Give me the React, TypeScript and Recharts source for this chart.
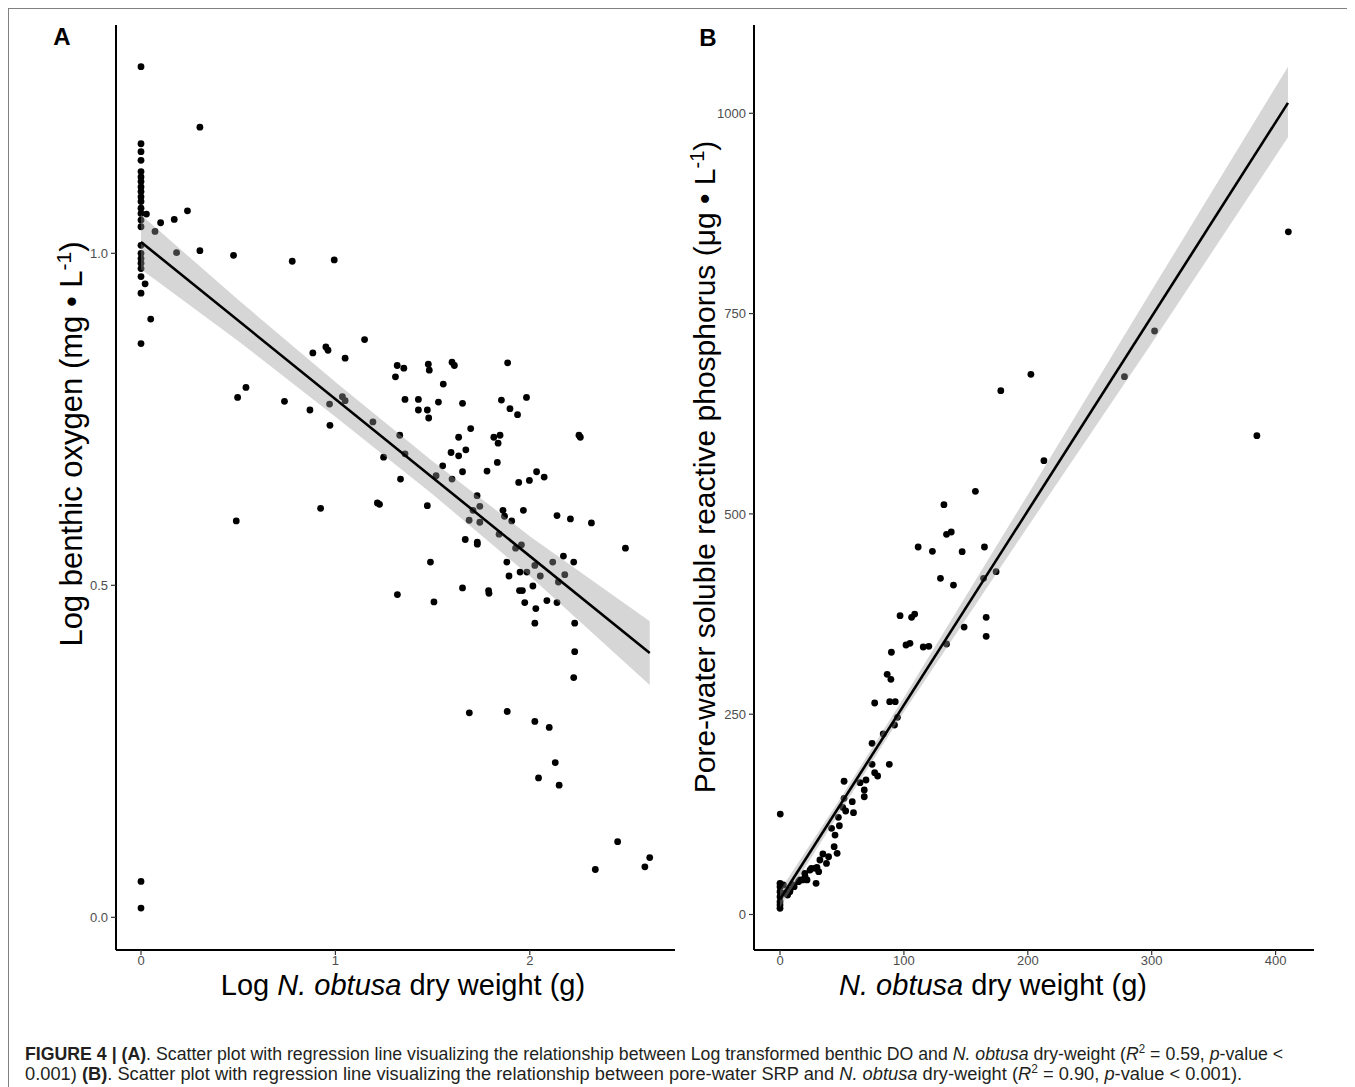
import { ComposedChart, Scatter, Line, Area, XAxis, YAxis } from "recharts"

const FONT = "'Liberation Sans', Arial, Helvetica, sans-serif"

// Panel A: log N. obtusa dry weight vs log benthic DO
const weightA = [
  0, 0, 0, 0, 0, 0, 0, 0, 0, 0, 0, 0, 0, 0, 0, 0, 0, 0, 0, 0, 0, 0, 0, 0, 0,
  0.028, 0.072, 0.021, 0.05, 0.101, 0.171, 0.183, 0.239, 0.303, 0.303, 0.476, 0.778, 0.994, 1.15, 0.884, 0.951,
  0.962, 1.05, 1.309, 1.318, 1.352, 1.478, 1.483, 1.555, 1.6, 1.612, 1.886,
  0.54, 0.497, 0.738, 0.869, 0.97, 0.972, 1.036, 1.05, 1.193, 1.248, 1.331, 1.335, 1.358, 1.358, 1.427, 1.427,
  1.473, 1.48, 1.53, 1.654, 1.696, 1.634, 1.595, 1.634, 1.671, 1.552, 1.518, 1.6, 1.654, 1.854, 1.898, 1.937,
  1.983, 1.815, 1.847, 1.837, 1.833, 1.78, 2.035, 1.998, 2.074, 1.943, 2.253, 2.26, 1.729, 1.743, 1.708, 1.688,
  1.743, 1.862, 1.87, 1.907, 1.967, 1.842, 1.927, 1.957, 1.668, 1.73, 1.73, 1.216, 1.227, 0.924, 1.473, 0.49,
  2.14, 2.209, 2.317, 2.492, 1.882, 1.893, 1.95, 1.985, 2.026, 2.054, 2.118, 2.173, 2.18, 2.226, 2.147, 2.016,
  1.947, 1.962, 1.974, 2.031, 2.088, 2.14, 2.026, 2.231, 2.231, 2.226, 1.654, 1.788, 1.79, 1.319, 1.507, 1.489,
  1.689, 1.884, 2.026, 2.1, 2.131, 2.045, 2.151, 2.337, 2.452, 2.592, 2.617,
]
const oxygenA = [
  1.281, 1.165, 1.153, 1.14, 1.123, 1.115, 1.108, 1.1, 1.093, 1.085, 1.078, 1.068, 1.06, 1.05, 1.04, 1.012,
  1.0, 0.992, 0.985, 0.977, 0.965, 0.94, 0.864, 0.054, 0.014,
  1.059, 1.033, 0.954, 0.901, 1.046, 1.051, 1.001, 1.064, 1.19, 1.004, 0.997, 0.988, 0.99, 0.87, 0.85, 0.859,
  0.854, 0.842, 0.814, 0.831, 0.827, 0.833, 0.824, 0.803, 0.836, 0.831, 0.835,
  0.798, 0.783, 0.777, 0.764, 0.773, 0.741, 0.784, 0.778, 0.746, 0.693, 0.726, 0.66, 0.698, 0.78, 0.78, 0.764,
  0.764, 0.752, 0.776, 0.774, 0.736, 0.723, 0.7, 0.695, 0.704, 0.68, 0.665, 0.66, 0.671, 0.779, 0.766, 0.757,
  0.783, 0.723, 0.726, 0.714, 0.685, 0.672, 0.671, 0.658, 0.663, 0.655, 0.726, 0.723, 0.635, 0.619, 0.613, 0.598,
  0.595, 0.613, 0.604, 0.597, 0.613, 0.577, 0.556, 0.561, 0.569, 0.565, 0.562, 0.624, 0.622, 0.616, 0.62, 0.597,
  0.605, 0.6, 0.594, 0.556, 0.535, 0.514, 0.52, 0.52, 0.53, 0.514, 0.535, 0.544, 0.516, 0.535, 0.505, 0.499,
  0.492, 0.492, 0.474, 0.465, 0.477, 0.474, 0.443, 0.443, 0.4, 0.361, 0.496, 0.492, 0.488, 0.486, 0.475, 0.535,
  0.308, 0.31, 0.295, 0.286, 0.233, 0.21, 0.199, 0.072, 0.114, 0.076, 0.09,
]
const fitXA = [0, 2.617]
const fitYA = [1.017, 0.398]
const bandXA = [0, 0.5, 1.0, 1.5, 2.0, 2.617]
const bandLoA = [0.976, 0.868, 0.754, 0.637, 0.514, 0.35]
const bandHiA = [1.058, 0.93, 0.806, 0.687, 0.574, 0.446]
const ticksXA = [0, 1, 2]
const ticksYA = [0, 0.5, 1.0]

// Panel B: N. obtusa dry weight vs pore-water SRP
const weightB = [
  410.3, 178.2, 202.5, 278, 302.3, 384.9, 213, 157.7, 132.3, 134.4, 138.2, 111.5, 123, 147, 165, 174.4,
  164.3, 129.5, 140, 96.9, 106.2, 108.7, 166.4, 148.6, 166.4, 101.7, 104.9, 115.6, 120.1, 134.4, 89.9, 86.5,
  89.5, 76.4, 88.5, 93, 94.8, 92.4, 83.3, 74.3, 88.2, 74.3, 76.4, 78.8, 69.4, 64.6, 68, 68,
  51.7, 51.7, 58.3, 50.6, 53, 59.3, 47.1, 47.9, 41.6, 44.4, 43.7, 46.1, 39.2, 34.6, 37.5, 32.2,
  29.8, 25.3, 31.2, 29.1, 20, 18.3, 21.8, 14.9, 11.4, 7.9, 6.1, 0.2, 2.7, 0, 0, 0,
  0, 0, 0, 0, 10.8, 8.1, 4, 16.1, 20.2, 24.2, 28.3,
]
const srpB = [
  852, 653.8, 674.2, 671.3, 728.3, 597.6, 566.4, 528.2, 511.5, 474.5, 477.4, 458.7, 453.3, 452.8, 458.7, 427.9,
  419.6, 419.6, 411.2, 373, 370.9, 375, 370.9, 358.8, 347.2, 336.4, 338.5, 333.9, 334.7, 337.6, 327.3, 299.8,
  293.5, 264, 265.6, 265.6, 246.1, 236.5, 225.3, 213.7, 187.5, 187.5, 177, 172.9, 167.9, 164.5, 155.4, 147,
  166.3, 145, 140.8, 133.8, 129.2, 127.1, 121.3, 110.8, 107.6, 99.2, 84.6, 76.4, 72.1, 75.5, 63.8, 68,
  58.9, 57.7, 53.4, 38.9, 51.4, 43.1, 43.1, 41, 34.7, 28.5, 24.3, 125.4, 36.8, 38.9, 34.7, 28.5,
  22.2, 16, 11.9, 7.7, 36.8, 30.6, 26.5, 43.1, 47.2, 55.5, 57.7,
]
const fitXB = [0, 410]
const fitYB = [19, 1013]
const bandXB = [0, 50, 100, 200, 300, 410]
const bandLoB = [9, 132, 253, 484, 713, 970]
const bandHiB = [30, 148, 271, 524, 779, 1058]
const ticksXB = [0, 100, 200, 300, 400]
const ticksYB = [0, 250, 500, 750, 1000]

const zip = (xs: number[], ys: number[]) => xs.map((x, i) => ({ x, y: ys[i] }))
const bandOf = (xs: number[], lo: number[], hi: number[]) => xs.map((x, i) => ({ x, band: [lo[i], hi[i]] }))

const pointsA = zip(weightA, oxygenA)
const pointsB = zip(weightB, srpB)
const fitA = zip(fitXA, fitYA)
const fitB = zip(fitXB, fitYB)
const ribbonA = bandOf(bandXA, bandLoA, bandHiA)
const ribbonB = bandOf(bandXB, bandLoB, bandHiB)

const Dot = (p: any) => <circle cx={p.cx} cy={p.cy} r={3.4} fill="#000" />

const tickStyle = { fill: "#4d4d4d", fontSize: 13, fontFamily: FONT }
const axisLine = { stroke: "#000", strokeWidth: 2 }
const tickLine = { stroke: "#333", strokeWidth: 1.2 }

const TitleXA = () => (
  <text x={394} y={986} textAnchor="middle" fontSize={29} fontFamily={FONT} fill="#000">
    {"Log "}
    <tspan fontStyle="italic">N. obtusa</tspan>
    {" dry weight (g)"}
  </text>
)

const TitleYA = () => (
  <g fontFamily={FONT} fill="#000">
    <text x={53} y={36} textAnchor="middle" fontSize={24} fontWeight="bold">A</text>
    <text x={73} y={435} transform="rotate(-90 73 435)" textAnchor="middle" fontSize={31}>
      {"Log benthic oxygen (mg • L"}
      <tspan dy={-11} fontSize={21}>-1</tspan>
      <tspan dy={11}>)</tspan>
    </text>
  </g>
)

const TitleXB = () => (
  <text x={314} y={986} textAnchor="middle" fontSize={29} fontFamily={FONT} fill="#000">
    <tspan fontStyle="italic">N. obtusa</tspan>
    {" dry weight (g)"}
  </text>
)

const TitleYB = () => (
  <g fontFamily={FONT} fill="#000">
    <text x={29} y={37} textAnchor="middle" fontSize={24} fontWeight="bold">B</text>
    <text x={36} y={458} transform="rotate(-90 36 458)" textAnchor="middle" fontSize={30}>
      {"Pore-water soluble reactive phosphorus (μg • L"}
      <tspan dy={-11} fontSize={20}>-1</tspan>
      <tspan dy={11}>)</tspan>
    </text>
  </g>
)

export default function App() {
  return (
    <div
      style={{
        position: "relative",
        width: 1346,
        height: 1079,
        boxSizing: "border-box",
        border: "1px solid #808080",
        borderBottom: "none",
        background: "#fff",
      }}
    >
      <style>{"body{overflow:hidden}"}</style>
      <div style={{ position: "absolute", left: 0, top: 0 }}>
        <ComposedChart width={680} height={1000} margin={{ top: 16, right: 14, bottom: 0, left: 0 }}>
          <XAxis
            type="number"
            dataKey="x"
            domain={[-0.1286, 2.747]}
            allowDataOverflow
            ticks={ticksXA}
            interval={0}
            height={59}
            tick={tickStyle}
            tickSize={5}
            tickMargin={1}
            axisLine={axisLine}
            tickLine={tickLine}
            label={<TitleXA />}
          />
          <YAxis
            type="number"
            dataKey="y"
            domain={[-0.0492, 1.3438]}
            allowDataOverflow
            ticks={ticksYA}
            interval={0}
            width={107}
            tickFormatter={(v: number) => v.toFixed(1)}
            tick={tickStyle}
            tickSize={5}
            tickMargin={3}
            axisLine={axisLine}
            tickLine={tickLine}
            label={<TitleYA />}
          />
          <Scatter data={pointsA} shape={Dot} isAnimationActive={false} />
          <Area
            data={ribbonA}
            dataKey="band"
            type="linear"
            stroke="none"
            fill="#999999"
            fillOpacity={0.4}
            isAnimationActive={false}
            zIndex={650}
          />
          <Line
            data={fitA}
            dataKey="y"
            type="linear"
            stroke="#000"
            strokeWidth={2.6}
            dot={false}
            isAnimationActive={false}
            zIndex={700}
          />
        </ComposedChart>
      </div>
      <div style={{ position: "absolute", left: 670, top: 0 }}>
        <ComposedChart width={655} height={1000} margin={{ top: 16, right: 20, bottom: 0, left: 0 }}>
          <XAxis
            type="number"
            dataKey="x"
            domain={[-21, 431]}
            allowDataOverflow
            ticks={ticksXB}
            interval={0}
            height={59}
            tick={tickStyle}
            tickSize={5}
            tickMargin={1}
            axisLine={axisLine}
            tickLine={tickLine}
            label={<TitleXB />}
          />
          <YAxis
            type="number"
            dataKey="y"
            domain={[-44.3, 1110.2]}
            allowDataOverflow
            ticks={ticksYB}
            interval={0}
            width={75}
            tick={tickStyle}
            tickSize={5}
            tickMargin={3}
            axisLine={axisLine}
            tickLine={tickLine}
            label={<TitleYB />}
          />
          <Scatter data={pointsB} shape={Dot} isAnimationActive={false} />
          <Area
            data={ribbonB}
            dataKey="band"
            type="linear"
            stroke="none"
            fill="#999999"
            fillOpacity={0.4}
            isAnimationActive={false}
            zIndex={650}
          />
          <Line
            data={fitB}
            dataKey="y"
            type="linear"
            stroke="#000"
            strokeWidth={2.6}
            dot={false}
            isAnimationActive={false}
            zIndex={700}
          />
        </ComposedChart>
      </div>
      <svg
        width={1340}
        height={58}
        style={{ position: "absolute", left: 0, top: 1021 }}
        fontFamily={FONT}
        fontSize={18.5}
        fill="#231f20"
      >
        <text transform="translate(16 30) scale(0.958 1)">
          <tspan fontWeight="bold">FIGURE 4 | (A)</tspan>
          {". Scatter plot with regression line visualizing the relationship between Log transformed benthic DO and "}
          <tspan fontStyle="italic">N. obtusa</tspan>
          {" dry-weight ("}
          <tspan fontStyle="italic">R</tspan>
          <tspan dy={-7} fontSize={12}>2</tspan>
          <tspan dy={7}>{" = 0.59, "}</tspan>
          <tspan fontStyle="italic">p</tspan>
          {"-value <"}
        </text>
        <text transform="translate(16 50) scale(0.989 1)">
          {"0.001) "}
          <tspan fontWeight="bold">(B)</tspan>
          {". Scatter plot with regression line visualizing the relationship between pore-water SRP and "}
          <tspan fontStyle="italic">N. obtusa</tspan>
          {" dry-weight ("}
          <tspan fontStyle="italic">R</tspan>
          <tspan dy={-7} fontSize={12}>2</tspan>
          <tspan dy={7}>{" = 0.90, "}</tspan>
          <tspan fontStyle="italic">p</tspan>
          {"-value < 0.001)."}
        </text>
      </svg>
    </div>
  )
}
